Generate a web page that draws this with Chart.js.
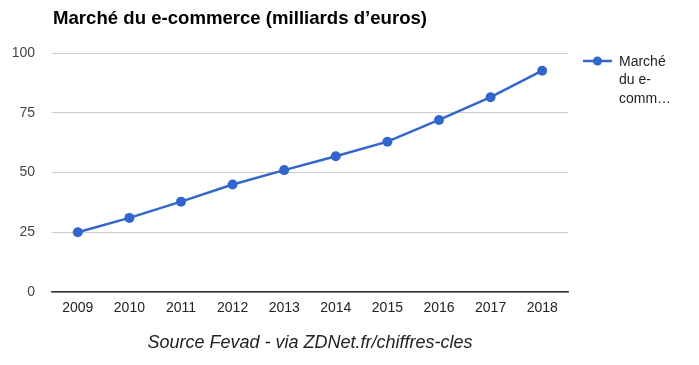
<!DOCTYPE html>
<html>
<head>
<meta charset="utf-8">
<script src="https://cdn.jsdelivr.net/npm/chart.js@4"></script>
<style>
  html, body { margin: 0; padding: 0; background: #fff; }
  #wrap { width: 699px; height: 365px; }
</style>
</head>
<body>
<div id="wrap"><canvas id="chart" width="699" height="365"></canvas></div>
<script>
const TITLE = 'Marché du e-commerce (milliards d’euros)';
const SERIES_LABEL = 'Marché du e-commerce (milliards d’euros)';
const SOURCE = 'Source Fevad - via ZDNet.fr/chiffres-cles';
const YEARS = ['2009', '2010', '2011', '2012', '2013', '2014', '2015', '2016', '2017', '2018'];
const VALUES = [25, 31, 37.8, 45, 51, 56.8, 62.9, 72, 81.5, 92.6];
const Y_TICKS = [0, 25, 50, 75, 100];

const FONT = 'Arial, "Liberation Sans", sans-serif';
const BLUE = '#3366cc';

// ── Title + legend drawn the Google-charts way ───────────────────────────────

function wrapLabel(ctx, text, maxW, maxLines) {
  const parts = text.match(/[^\s-]+-?|\s+/g) || [];
  const lines = [];
  let cur = '';
  let i = 0;
  for (; i < parts.length; i++) {
    const p = parts[i];
    const test = (cur + p).trimEnd();
    if (ctx.measureText(test).width <= maxW || !cur.trim()) {
      cur += p;
    } else {
      lines.push(cur.trim());
      cur = p.trim() ? p : '';
      if (lines.length === maxLines - 1) { i++; break; }
    }
  }
  let rest = (cur + parts.slice(i).join('')).trim();
  if (rest) {
    if (ctx.measureText(rest).width > maxW) {
      while (rest.length && ctx.measureText(rest + '…').width > maxW) rest = rest.slice(0, -1);
      rest = rest + '…';
    }
    lines.push(rest);
  }
  return lines;
}

const decorPlugin = {
  id: 'decor',
  afterDraw(chart) {
    const ctx = chart.ctx;
    const area = chart.chartArea;
    ctx.save();
    // title
    ctx.fillStyle = '#000';
    ctx.font = `bold 18.6px ${FONT}`;
    ctx.textBaseline = 'middle';
    ctx.textAlign = 'left';
    ctx.fillText(TITLE, area.left + 1, 19);

    // legend
    const ly = 61;
    ctx.strokeStyle = BLUE;
    ctx.lineWidth = 2.5;
    ctx.beginPath();
    ctx.moveTo(583, ly);
    ctx.lineTo(612, ly);
    ctx.stroke();
    ctx.fillStyle = BLUE;
    ctx.beginPath();
    ctx.arc(597.5, ly, 4.5, 0, Math.PI * 2);
    ctx.fill();

    ctx.font = `14px ${FONT}`;
    ctx.fillStyle = '#222';
    const lines = wrapLabel(ctx, chart.data.datasets[0].label, 56, 3);
    lines.forEach((l, k) => ctx.fillText(l, 619, 62 + k * 18.5));
    ctx.restore();
  },
};

// ── Chart ─────────────────────────────────────────────────────────────────────

new Chart(document.getElementById('chart').getContext('2d'), {
  type: 'line',
  data: {
    labels: YEARS,
    datasets: [{
      label: SERIES_LABEL,
      data: VALUES,
      borderColor: BLUE,
      backgroundColor: BLUE,
      borderWidth: 2.5,
      pointRadius: 5,
      pointHoverRadius: 5,
      pointBorderWidth: 0,
      tension: 0,
      clip: false,
    }],
  },
  options: {
    responsive: false,
    animation: false,
    layout: { padding: { top: 53, right: 131, left: 0, bottom: 0 } },
    plugins: {
      legend: { display: false },
      title: { display: false },
      tooltip: { enabled: false },
    },
    scales: {
      x: {
        offset: true,
        grid: { display: false, drawTicks: false },
        border: { display: true, color: '#333', width: 1.5 },
        ticks: {
          color: '#222',
          font: { family: FONT, size: 14 },
          padding: 8,
          maxRotation: 0,
        },
        title: {
          display: true,
          text: SOURCE,
          color: '#222',
          font: { family: FONT, size: 18, style: 'italic' },
          padding: { top: 4, bottom: 11 },
        },
        afterFit: s => { s.height = 73; },
      },
      y: {
        min: 0,
        max: 100,
        afterBuildTicks: s => { s.ticks = Y_TICKS.map(v => ({ value: v })); },
        grid: { color: '#cccccc', drawTicks: false, lineWidth: 1 },
        border: { display: false },
        ticks: {
          color: '#444',
          font: { family: FONT, size: 14 },
          padding: 17,
        },
        afterFit: s => { s.width = 52; },
      },
    },
  },
  plugins: [decorPlugin],
});
</script>
</body>
</html>
